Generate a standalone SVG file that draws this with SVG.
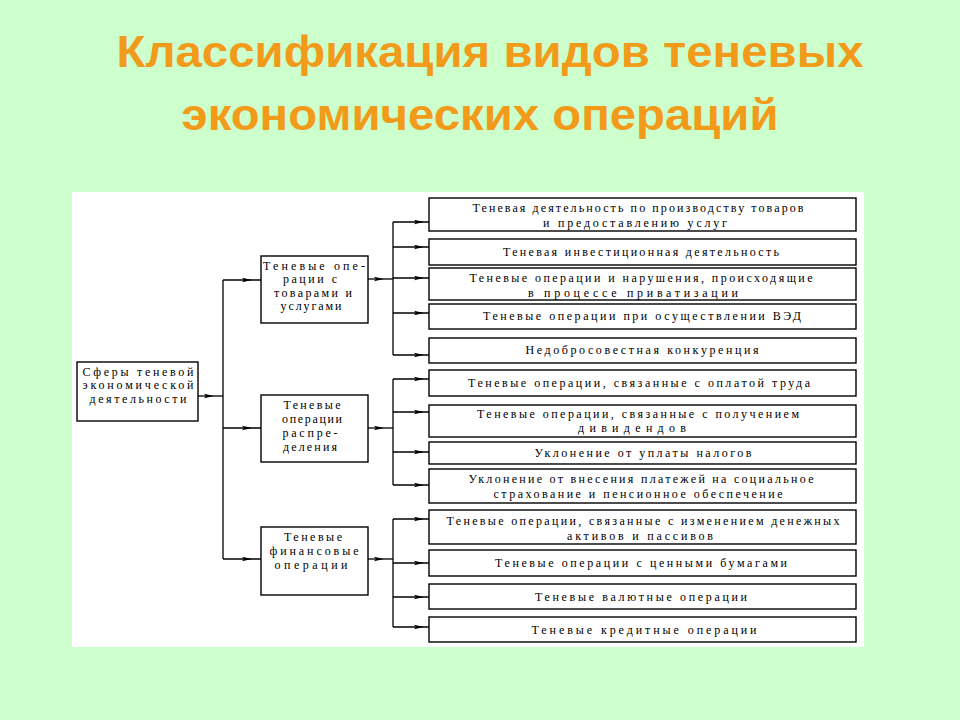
<svg xmlns="http://www.w3.org/2000/svg" width="960" height="720" viewBox="0 0 960 720">
<defs>
<style>
.title{font-family:"Liberation Sans",Arial,sans-serif;font-weight:bold;font-size:45px;fill:#f29b1b;text-anchor:middle}
.box{fill:#ffffff;stroke:#000;stroke-width:1.4}
.t{font-family:"Liberation Serif","Times New Roman",serif;font-size:12px;fill:#000;text-anchor:middle}
.c{fill:none;stroke:#000;stroke-width:1.3;marker-mid:url(#ah)}
.trunk{fill:none;stroke:#000;stroke-width:1.3}
</style>
<marker id="ah" viewBox="0 0 10 6" refX="10" refY="3" markerWidth="10" markerHeight="6" markerUnits="userSpaceOnUse" orient="auto">
<path d="M0,0.8 L10,3 L0,5.2 L2,3 Z" fill="#000"/>
</marker>
</defs>
<rect x="0" y="0" width="960" height="720" fill="#ccffcc"/>
<text class="title" x="490" y="67" textLength="747" lengthAdjust="spacingAndGlyphs">Классификация видов теневых</text>
<text class="title" x="480" y="130" textLength="597" lengthAdjust="spacingAndGlyphs">экономических операций</text>
<rect x="72" y="192" width="792" height="455" fill="#ffffff"/>

<g id="connectors">
<polyline class="c" points="198,396 214,396 223,396"/>
<path class="trunk" d="M223,280 L223,559" stroke-width="2"/>
<polyline class="c" points="223,280 252,280 261,280"/>
<polyline class="c" points="223,428 252,428 261,428"/>
<polyline class="c" points="223,559 252,559 261,559"/>

<polyline class="c" points="368,279 384,279 393,279"/>
<path class="trunk" d="M393,222 L393,355"/>
<polyline class="c" points="393,222 424,222 429,222"/>
<polyline class="c" points="393,247 424,247 429,247"/>
<polyline class="c" points="393,278 424,278 429,278"/>
<polyline class="c" points="393,313 424,313 429,313"/>
<polyline class="c" points="393,355 424,355 429,355"/>

<polyline class="c" points="368,428 384,428 393,428"/>
<path class="trunk" d="M393,379 L393,485"/>
<polyline class="c" points="393,379 424,379 429,379"/>
<polyline class="c" points="393,412 424,412 429,412"/>
<polyline class="c" points="393,452 424,452 429,452"/>
<polyline class="c" points="393,485 424,485 429,485"/>

<polyline class="c" points="368,559 384,559 393,559"/>
<path class="trunk" d="M393,519 L393,627"/>
<polyline class="c" points="393,519 424,519 429,519"/>
<polyline class="c" points="393,563 424,563 429,563"/>
<polyline class="c" points="393,597 424,597 429,597"/>
<polyline class="c" points="393,627 424,627 429,627"/>
</g>

<g id="root">
<rect class="box" x="77" y="362" width="121" height="59"/>
<text class="t" x="138" y="376" textLength="111" lengthAdjust="spacing">Сферы теневой</text>
<text class="t" x="138" y="389" textLength="111" lengthAdjust="spacing">экономической</text>
<text class="t" x="138" y="403" textLength="97" lengthAdjust="spacing">деятельности</text>
</g>

<g id="goods">
<rect class="box" x="261" y="256" width="107" height="67"/>
<text class="t" x="314" y="270" textLength="102" lengthAdjust="spacing">Теневые опе-</text>
<text class="t" x="310" y="283" textLength="54" lengthAdjust="spacing">рации с</text>
<text class="t" x="313" y="297" textLength="78" lengthAdjust="spacing">товарами и</text>
<text class="t" x="311" y="310" textLength="61" lengthAdjust="spacing">услугами</text>
</g>

<g id="distribution">
<rect class="box" x="261" y="395" width="107" height="67"/>
<text class="t" x="312" y="409" textLength="57" lengthAdjust="spacing">Теневые</text>
<text class="t" x="312" y="423" textLength="60" lengthAdjust="spacing">операции</text>
<text class="t" x="310" y="437" textLength="55" lengthAdjust="spacing">распре-</text>
<text class="t" x="310" y="451" textLength="54" lengthAdjust="spacing">деления</text>
</g>

<g id="financial">
<rect class="box" x="261" y="527" width="107" height="68"/>
<text class="t" x="313" y="541" textLength="58" lengthAdjust="spacing">Теневые</text>
<text class="t" x="314" y="555" textLength="89" lengthAdjust="spacing">финансовые</text>
<text class="t" x="311" y="569" textLength="73" lengthAdjust="spacing">операции</text>
</g>

<g id="g1l1">
<rect class="box" x="429" y="198" width="427" height="33"/>
<text class="t" x="638" y="212" textLength="331" lengthAdjust="spacing">Теневая деятельность по производству товаров</text>
<text class="t" x="635" y="227" textLength="184" lengthAdjust="spacing">и предоставлению услуг</text>
</g>
<g id="g1l2">
<rect class="box" x="429" y="239" width="427" height="26"/>
<text class="t" x="641" y="256" textLength="276" lengthAdjust="spacing">Теневая инвестиционная деятельность</text>
</g>
<g id="g1l3">
<rect class="box" x="429" y="268" width="427" height="32"/>
<text class="t" x="641" y="282" textLength="343" lengthAdjust="spacing">Теневые операции и нарушения, происходящие</text>
<text class="t" x="633" y="297" textLength="210" lengthAdjust="spacing">в процессе приватизации</text>
</g>
<g id="g1l4">
<rect class="box" x="429" y="304" width="427" height="25"/>
<text class="t" x="642" y="320" textLength="318" lengthAdjust="spacing">Теневые операции при осуществлении ВЭД</text>
</g>
<g id="g1l5">
<rect class="box" x="429" y="338" width="427" height="25"/>
<text class="t" x="642" y="354" textLength="233" lengthAdjust="spacing">Недобросовестная конкуренция</text>
</g>

<g id="g2l1">
<rect class="box" x="429" y="370" width="427" height="26"/>
<text class="t" x="639" y="387" textLength="342" lengthAdjust="spacing">Теневые операции, связанные с оплатой труда</text>
</g>
<g id="g2l2">
<rect class="box" x="429" y="405" width="427" height="32"/>
<text class="t" x="638" y="418" textLength="322" lengthAdjust="spacing">Теневые операции, связанные с получением</text>
<text class="t" x="632" y="432" textLength="108" lengthAdjust="spacing">дивидендов</text>
</g>
<g id="g2l3">
<rect class="box" x="429" y="442" width="427" height="22"/>
<text class="t" x="643" y="457" textLength="217" lengthAdjust="spacing">Уклонение от уплаты налогов</text>
</g>
<g id="g2l4">
<rect class="box" x="429" y="469" width="427" height="34"/>
<text class="t" x="641" y="483" textLength="345" lengthAdjust="spacing">Уклонение от внесения платежей на социальное</text>
<text class="t" x="638" y="498" textLength="289" lengthAdjust="spacing">страхование и пенсионное обеспечение</text>
</g>

<g id="g3l1">
<rect class="box" x="429" y="510" width="427" height="34"/>
<text class="t" x="643" y="525" textLength="393" lengthAdjust="spacing">Теневые операции, связанные с изменением денежных</text>
<text class="t" x="640" y="540" textLength="146" lengthAdjust="spacing">активов и пассивов</text>
</g>
<g id="g3l2">
<rect class="box" x="429" y="550" width="427" height="26"/>
<text class="t" x="641" y="567" textLength="292" lengthAdjust="spacing">Теневые операции с ценными бумагами</text>
</g>
<g id="g3l3">
<rect class="box" x="429" y="584" width="427" height="25"/>
<text class="t" x="641" y="601" textLength="212" lengthAdjust="spacing">Теневые валютные операции</text>
</g>
<g id="g3l4">
<rect class="box" x="429" y="617" width="427" height="25"/>
<text class="t" x="644" y="634" textLength="225" lengthAdjust="spacing">Теневые кредитные операции</text>
</g>
</svg>
